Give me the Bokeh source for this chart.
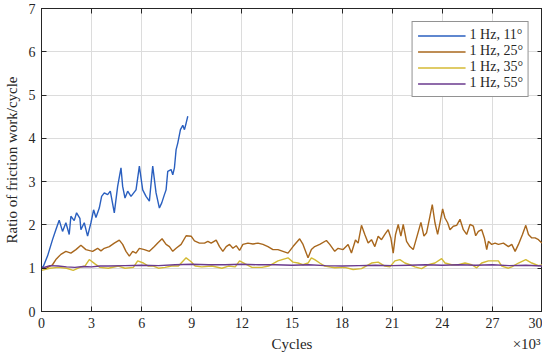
from bokeh.plotting import figure
from bokeh.models import LinearAxis, Range1d, Legend, LegendItem, FixedTicker, CustomJSTickFormatter
from bokeh.embed import file_html
from bokeh.resources import INLINE

FONT = "Liberation Serif"

labels = ["1 Hz, 11\u00b0", "1 Hz, 25\u00b0", "1 Hz, 35\u00b0", "1 Hz, 55\u00b0"]
colors = ["#2A5FBF", "#A8671D", "#D4BA34", "#6A3A8E"]

x_ticks = [0, 3, 6, 9, 12, 15, 18, 21, 24, 27, 30]
y_ticks = [0, 1, 2, 3, 4, 5, 6, 7]
x_title = "Cycles"
x_scale_note = "\u00d710\u00b3"
y_title = "Ratio of friction work/cycle"

blue_x = [0, 0.12, 0.36, 0.66, 0.86, 1.06, 1.26, 1.46, 1.66, 1.76, 1.96, 2.1, 2.3, 2.36, 2.56, 2.76, 2.96, 3.12, 3.26, 3.46,
          3.6, 3.76, 3.96, 4.12, 4.36, 4.56, 4.76, 4.86, 5.0, 5.16, 5.36, 5.66, 5.86, 6.06, 6.26, 6.46, 6.66, 6.86, 7.06, 7.2,
          7.36, 7.46, 7.56, 7.76, 7.86, 7.96, 8.06, 8.16, 8.32, 8.46, 8.56, 8.66, 8.76]
blue_y = [1.0, 1.05, 1.28, 1.66, 1.89, 2.11, 1.85, 2.05, 1.78, 2.2, 2.1, 2.28, 2.15, 1.89, 2.05, 1.74, 2.05, 2.35, 2.17, 2.39,
          2.66, 2.74, 2.7, 2.78, 2.28, 2.89, 3.32, 2.89, 2.62, 2.78, 2.66, 2.81, 3.36, 2.81, 2.66, 2.55, 3.36, 2.74, 2.39, 2.51,
          2.7, 2.81, 3.24, 3.28, 3.16, 3.32, 3.74, 3.89, 4.2, 4.3, 4.2, 4.35, 4.51]

orange_x = [0, 0.3, 0.66, 0.86, 1.16, 1.46, 1.76, 2.06, 2.36, 2.66,
            3.06, 3.36, 3.56, 3.76, 4.06, 4.36, 4.66, 4.86, 5.06, 5.26,
            5.46, 5.66, 5.86, 6.16, 6.46, 6.76, 6.96, 7.22, 7.46, 7.66,
            7.86, 8.06, 8.36, 8.66, 8.96, 9.16, 9.46, 9.76, 9.96, 10.16,
            10.46, 10.66, 10.86, 11.06, 11.26, 11.46, 11.66, 11.86, 12.06, 12.36,
            12.66, 12.96, 13.26, 13.56, 13.86, 14.16, 14.76, 15.06, 15.46, 15.66,
            15.96, 16.16, 16.36, 16.66, 17.06, 17.26, 17.56, 17.76, 18.06, 18.36,
            18.56, 18.8, 18.96, 19.16, 19.36, 19.56, 19.76, 19.96, 20.16, 20.36,
            20.56, 20.76, 20.92, 21.06, 21.2, 21.36, 21.52, 21.66, 21.86, 22.06,
            22.26, 22.46, 22.72, 22.9, 23.06, 23.26, 23.4, 23.56, 23.72, 23.86,
            24.02, 24.16, 24.32, 24.46, 24.66, 24.86, 25.06, 25.26, 25.46, 25.66,
            25.86, 26.0, 26.16, 26.36, 26.52, 26.66, 26.76, 26.96, 27.16, 27.36,
            27.66, 27.96, 28.16, 28.36, 28.56, 28.8, 29.0, 29.16, 29.36, 29.56,
            29.76, 29.96]
orange_y = [1.0, 1.0, 1.08, 1.2, 1.32, 1.39, 1.35, 1.43, 1.53, 1.43,
            1.39, 1.46, 1.4, 1.46, 1.5, 1.58, 1.65, 1.55, 1.39, 1.28,
            1.39, 1.35, 1.46, 1.43, 1.39, 1.5, 1.58, 1.68, 1.55, 1.5,
            1.39, 1.46, 1.55, 1.75, 1.74, 1.63, 1.58, 1.58, 1.62, 1.58,
            1.65, 1.5, 1.39, 1.5, 1.55, 1.46, 1.52, 1.41, 1.55, 1.58,
            1.56, 1.58, 1.55, 1.5, 1.43, 1.43, 1.35, 1.5, 1.68, 1.55,
            1.24, 1.43, 1.5, 1.55, 1.64, 1.55, 1.39, 1.46, 1.43, 1.55,
            1.35, 1.65, 1.58, 1.99, 1.78, 1.58, 1.66, 1.5, 1.74, 1.66,
            1.78, 1.89, 1.7, 1.35, 1.78, 2.01, 1.74, 2.01, 1.62, 1.5,
            1.43, 1.7, 2.06, 1.74, 1.82, 2.2, 2.47, 2.05, 1.78, 2.05,
            2.37, 2.16, 2.05, 1.89, 1.97, 1.99, 2.13, 1.89, 1.78, 2.01,
            1.97, 1.75, 1.85, 1.89, 1.7, 1.43, 1.62, 1.55, 1.58, 1.55,
            1.58, 1.5, 1.55, 1.39, 1.55, 1.78, 1.99, 1.78, 1.7, 1.7,
            1.66, 1.58]

yellow_x = [0, 0.5, 1.0, 1.5, 1.9, 2.3, 2.6, 2.86, 3.2, 3.5,
            4.0, 4.6, 5.0, 5.5, 5.76, 6.1, 6.4, 6.7, 7.0, 7.4,
            7.8, 8.2, 8.66, 8.96, 9.2, 9.6, 10.2, 10.8, 11.2, 11.6,
            11.86, 12.2, 12.6, 13.2, 13.6, 14.16, 14.76, 15.06, 15.36, 15.66,
            15.96, 16.16, 16.36, 16.66, 16.96, 17.56, 18.16, 18.66, 19.16, 19.76,
            20.16, 20.56, 20.86, 21.16, 21.46, 21.76, 22.06, 22.36, 22.76, 23.16,
            23.56, 23.96, 24.16, 24.56, 24.96, 25.36, 25.76, 26.06, 26.36, 26.76,
            27.16, 27.36, 27.56, 27.96, 28.16, 28.56, 29.0, 29.36, 29.76, 30.0]
yellow_y = [0.95, 1.0, 1.02, 1.0, 0.95, 1.02, 1.05, 1.2, 1.1, 1.02,
            1.0, 1.05, 1.0, 1.02, 1.17, 1.12, 1.05, 1.05, 1.0, 1.02,
            1.05, 1.05, 1.24, 1.15, 1.05, 1.03, 1.05, 1.0, 1.05, 1.03,
            1.17, 1.1, 1.02, 1.02, 1.05, 1.17, 1.24, 1.14, 1.12, 1.08,
            1.12, 1.24, 1.2, 1.12, 1.05, 1.01, 1.02, 0.97, 0.99, 1.12,
            1.14, 1.05, 1.03, 1.17, 1.2, 1.12, 1.08, 1.03, 0.99, 1.08,
            1.12, 1.22, 1.12, 1.08, 1.08, 1.12, 1.08, 1.01, 1.12, 1.17,
            1.17, 1.17, 1.05, 1.0, 1.03, 1.12, 1.2, 1.12, 1.06, 1.08]

purple_x = [0, 0.5, 1.0, 1.5, 2.0, 2.5, 3.0, 3.5, 4.0, 5.0, 6.0, 7.0, 8.0, 9.0, 10.0, 11.0, 12.0, 13.0,
            14.0, 15.0, 16.0, 17.0, 18.0, 19.0, 20.0, 21.0, 22.0, 23.0, 24.0, 25.0, 26.0, 27.0, 28.0, 29.0, 30.0]
purple_y = [1.0, 1.06, 1.05, 1.03, 1.02, 1.04, 1.03, 1.05, 1.05, 1.06, 1.07, 1.06, 1.08, 1.09, 1.08, 1.08, 1.09, 1.08,
            1.08, 1.07, 1.08, 1.06, 1.05, 1.06, 1.07, 1.06, 1.07, 1.08, 1.07, 1.08, 1.07, 1.08, 1.06, 1.07, 1.05]

p = figure(frame_width=501, frame_height=303, output_backend="svg", toolbar_location=None,
           x_range=Range1d(0, 30), y_range=Range1d(0, 7),
           min_border_left=30, min_border_right=0, min_border_top=8, min_border_bottom=0)
p.outline_line_color = "#262626"
p.outline_line_width = 1
p.background_fill_color = "white"
p.border_fill_color = "white"

for ax in (p.xaxis[0], p.yaxis[0]):
    ax.major_tick_in = 5
    ax.major_tick_out = 0
    ax.minor_tick_in = 0
    ax.minor_tick_out = 0
    ax.axis_line_color = "#262626"
    ax.major_tick_line_color = "#262626"
    ax.major_label_text_font = FONT
    ax.major_label_text_font_size = "14px"
    ax.major_label_text_color = "#262626"
    ax.axis_label_text_font = FONT
    ax.axis_label_text_font_size = "15px"
    ax.axis_label_text_font_style = "normal"
    ax.axis_label_text_color = "#262626"

p.xaxis.ticker = FixedTicker(ticks=x_ticks)
p.yaxis.ticker = FixedTicker(ticks=y_ticks)
p.yaxis.axis_label = y_title
p.xaxis.major_label_standoff = 6
p.yaxis.major_label_standoff = 6
p.yaxis.axis_label_standoff = 6

# second bottom axis carrying the "Cycles" title and the x10^3 multiplier on one row
note_axis = LinearAxis(ticker=FixedTicker(ticks=[15, 29.05]),
                       formatter=CustomJSTickFormatter(args=dict(a=x_title, b=x_scale_note),
                                                       code="return tick < 20 ? a : b;"),
                       axis_line_color=None, major_tick_line_color=None, minor_tick_line_color=None,
                       major_tick_in=0, major_tick_out=0, minor_tick_in=0, minor_tick_out=0,
                       major_label_standoff=5, major_label_text_font=FONT,
                       major_label_text_font_size="15px", major_label_text_color="#262626")
p.add_layout(note_axis, "below")

top = LinearAxis(ticker=FixedTicker(ticks=x_ticks), major_tick_in=5, major_tick_out=0,
                 minor_tick_in=0, minor_tick_out=0, major_label_text_font_size="0px",
                 axis_line_color="#262626", major_tick_line_color="#262626", major_label_standoff=0)
right = LinearAxis(ticker=FixedTicker(ticks=y_ticks), major_tick_in=5, major_tick_out=0,
                   minor_tick_in=0, minor_tick_out=0, major_label_text_font_size="0px",
                   axis_line_color="#262626", major_tick_line_color="#262626", major_label_standoff=0)
p.add_layout(top, "above")
p.add_layout(right, "right")

p.xgrid.ticker = FixedTicker(ticks=x_ticks)
p.ygrid.ticker = FixedTicker(ticks=y_ticks)
p.grid.grid_line_color = "#dcdcdc"
p.grid.grid_line_width = 1

series = [(blue_x, blue_y), (orange_x, orange_y), (yellow_x, yellow_y), (purple_x, purple_y)]
renderers = []
for (xs, ys), c in zip(series, colors):
    renderers.append(p.line(xs, ys, line_color=c, line_width=1.4))

items = [LegendItem(label=l, renderers=[r]) for l, r in zip(labels, renderers)]
legend = Legend(items=items, location="top_right", margin=13, padding=5, spacing=0,
                glyph_width=48, glyph_height=15, label_standoff=4,
                label_text_font=FONT, label_text_font_size="14px", label_text_color="#262626",
                border_line_color="#262626", border_line_width=1, background_fill_alpha=1,
                label_height=15)
p.add_layout(legend, "center")

open("out.html", "w").write(file_html(p, INLINE))
